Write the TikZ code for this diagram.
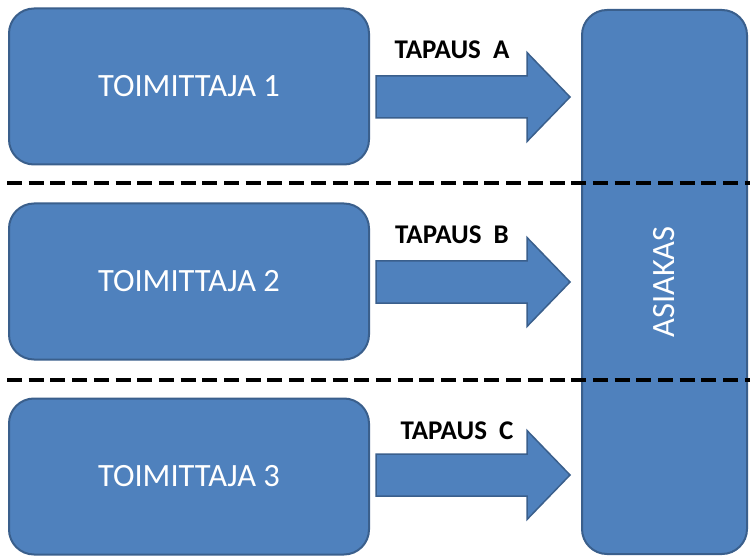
\documentclass[tikz,border=0pt]{standalone}
\usepackage{fontspec}
\setmainfont{Carlito}
\definecolor{boxfill}{HTML}{4F81BD}
\definecolor{boxline}{HTML}{3A5F8C}
\begin{document}
\begin{tikzpicture}[x=1pt,y=-1pt,
  party/.style={draw=boxline, line width=2pt, fill=boxfill, rounded corners=25pt,
    text=white, font=\fontsize{32.5}{38}\selectfont, inner sep=0pt},
  supplier/.style={party, minimum width=360pt, minimum height=156pt},
  blockarrow/.style={draw=boxline, line width=1.5pt, fill=boxfill, line join=miter},
  caselabel/.style={font=\fontsize{27}{32}\selectfont\bfseries, text=black, inner sep=0pt},
  divider/.style={line width=4.5pt, dash pattern=on 15pt off 6.7pt},
  casearrow/.pic={\draw[blockarrow] (0,-21) -- (151,-21) -- (151,-44.5) -- (194,0)
      -- (151,44.5) -- (151,21) -- (0,21) -- cycle;}]
\useasboundingbox[fill=white] (0,0) rectangle (750,556);

% suppliers on the left
\node[supplier] (s1) at (189,86.5)  {TOIMITTAJA 1};
\node[supplier] (s2) at (189,281.5) {TOIMITTAJA 2};
\node[supplier] (s3) at (189,476.5) {TOIMITTAJA 3};

% customer on the right
\node[party, minimum width=165pt, minimum height=544pt] (cust) at (664.5,282)
  {\rotatebox{90}{\raisebox{0pt}{ASIAKAS}}};

% block arrows towards the customer
\pic at (376,97)  {casearrow};
\pic at (376,282) {casearrow};
\pic at (376,475) {casearrow};

% case labels
\node[caselabel] (la) at (452,50)  {TAPAUS\hspace{0.45em}A};
\node[caselabel] (lb) at (452,235) {TAPAUS\hspace{0.45em}B};
\node[caselabel] (lc) at (457,431) {TAPAUS\hspace{0.45em}C};

% dashed separators between the cases
\coordinate (d1a) at (7,183);  \coordinate (d1b) at (750,183);
\coordinate (d2a) at (7,380);  \coordinate (d2b) at (750,380);
\draw[divider] (d1a) -- (d1b);
\draw[divider] (d2a) -- (d2b);
\end{tikzpicture}
\end{document}
